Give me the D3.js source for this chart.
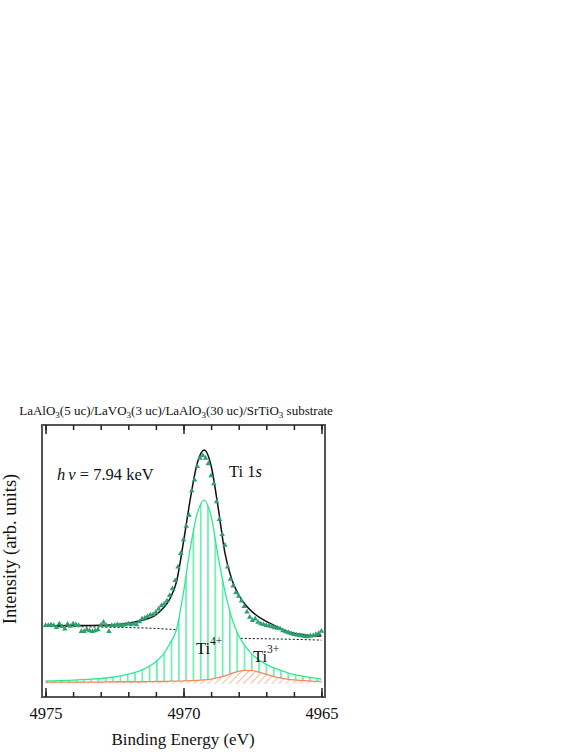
<!DOCTYPE html>
<html>
<head>
<meta charset="utf-8">
<script src="https://cdn.jsdelivr.net/npm/d3@7"></script>
<style>
    body { margin: 0; background: #fff; }
    text { font-family: "Liberation Serif", "Times New Roman", serif; fill: #111; }
</style>
</head>
<body>
<div id="chart"></div>
<script>
// measured spectrum, 0.1 eV steps from 4975.0 to 4965.0
var energies = d3.range(0, 101).map(function (i) { return +(4975 - i * 0.1).toFixed(1); });
var counts = [
    26.5, 26.5, 26.8, 26.5, 25.8, 27.1, 26.1, 25.2, 27.0, 26.2,
    27.1, 26.8, 26.5, 24.3, 24.3, 24.9, 24.6, 24.3, 24.6, 24.9,
    26.5, 27.7, 26.5, 24.3, 26.5, 26.5, 26.8, 26.5, 26.6, 26.8,
    27.1, 26.8, 27.1, 26.8, 27.9, 28.9, 29.3, 29.8, 30.4, 30.5,
    31.4, 32.6, 33.8, 34.4, 35.5, 37.5, 40.0, 43.0, 48.0, 53.0,
    58.0, 63.0, 67.0, 76.0, 80.0, 85.0, 88.0, 89.0, 88.0, 86.0,
    81.6, 78.6, 72.0, 65.5, 60.0, 56.0, 48.0, 43.5, 41.0, 38.5,
    37.3, 35.5, 33.5, 31.5, 29.5, 28.3, 28.9, 27.7, 27.1, 26.9,
    26.5, 26.3, 26.0, 25.7, 25.5, 25.3, 24.6, 24.2, 23.8, 23.5,
    23.2, 23.0, 22.8, 22.6, 22.5, 22.4, 22.6, 22.7, 23.2, 23.6,
    24.4
];

// fit curves
var fitEnergies = [4975, 4974.5, 4974, 4973.5, 4973, 4972.5, 4972, 4971.5, 4971, 4970.75,
    4970.5, 4970.25, 4970, 4969.75, 4969.5, 4969.25, 4969, 4968.75, 4968.5, 4968.25,
    4968, 4967.75, 4967.5, 4967.25, 4967, 4966.75, 4966.5, 4966.25, 4966, 4965.5, 4965];
var fitTotal = [26.2, 26.2, 26.3, 26.3, 26.4, 26.6, 27.1, 28.2, 30.2, 32.5,
    36.0, 42.5, 57.0, 73.0, 86.0, 90.8, 85.0, 70.0, 53.0, 43.2,
    37.5, 33.8, 31.2, 29.3, 27.8, 26.5, 25.3, 24.1, 23.4, 22.7, 22.4];
var fitTi4 = [5.9, 6.0, 6.2, 6.5, 6.8, 7.4, 8.4, 10.0, 13.0, 15.5,
    19.5, 25.0, 38.5, 55.0, 67.5, 72.4, 66.5, 52.0, 39.0, 29.0,
    22.5, 18.5, 15.5, 13.5, 12.0, 10.8, 9.9, 9.0, 8.3, 7.3, 6.6];
var fitTi3 = [5.5, 5.5, 5.5, 5.5, 5.5, 5.6, 5.6, 5.6, 5.7, 5.7,
    5.8, 5.8, 5.9, 6.0, 6.1, 6.3, 6.6, 7.1, 7.8, 8.7,
    9.4, 9.8, 9.7, 9.1, 8.3, 7.6, 7.0, 6.6, 6.3, 5.9, 5.7];

// Shirley background
var bgEnergies = [4975, 4973, 4971, 4970.5, 4970, 4969.5, 4969, 4968.5, 4968, 4967, 4966, 4965];
var bgValues = [26.0, 25.7, 25.2, 24.9, 24.6, 23.6, 22.6, 22.0, 21.6, 21.4, 21.2, 20.9];

var componentBase = 5.0;

var majorTicks = [4975, 4970, 4965];
var minorTicks = d3.range(4965, 4976, 1);

var green = "#2bea8c";
var orange = "#f4875a";
var pointColor = "#2f9f6f";
var serif = "'Liberation Serif', 'Times New Roman', serif";

var W = 581, H = 752;
var plotL = 42, plotR = 325, plotT = 425, plotB = 697;

var svg = d3.select("#chart")
    .append("svg")
    .attr("width", W)
    .attr("height", H);

var x = d3.scaleLinear().domain([4975.127, 4964.873]).range([plotL, plotR]);
var y = d3.scaleLinear().domain([0, 100]).range([plotB, plotT]);

var defs = svg.append("defs");

defs.append("clipPath").attr("id", "plotclip")
    .append("rect")
    .attr("x", plotL).attr("y", plotT)
    .attr("width", plotR - plotL).attr("height", plotB - plotT);

var vpat = defs.append("pattern")
    .attr("id", "vhatch")
    .attr("patternUnits", "userSpaceOnUse")
    .attr("width", 7.3).attr("height", 10);
vpat.append("rect").attr("width", 7.3).attr("height", 10).attr("fill", "#fff");
vpat.append("line")
    .attr("x1", 3.6).attr("x2", 3.6).attr("y1", 0).attr("y2", 10)
    .attr("stroke", green).attr("stroke-width", 1.2);

var dpat = defs.append("pattern")
    .attr("id", "dhatch")
    .attr("patternUnits", "userSpaceOnUse")
    .attr("width", 5).attr("height", 5)
    .attr("patternTransform", "rotate(45)");
dpat.append("rect").attr("width", 5).attr("height", 5).attr("fill", "#fff");
dpat.append("line")
    .attr("x1", 0).attr("x2", 0).attr("y1", 0).attr("y2", 5)
    .attr("stroke", orange).attr("stroke-width", 1.1);

var plot = svg.append("g").attr("clip-path", "url(#plotclip)");

// background
plot.append("path")
    .datum(d3.zip(bgEnergies, bgValues))
    .attr("fill", "none")
    .attr("stroke", "#111")
    .attr("stroke-width", 1)
    .attr("stroke-dasharray", "2,2")
    .attr("d", d3.line()
        .x(function (d) { return x(d[0]); })
        .y(function (d) { return y(d[1]); })
        .curve(d3.curveMonotoneX));

function compArea(vals, fill) {
    plot.append("path")
        .datum(d3.zip(fitEnergies, vals))
        .attr("fill", fill)
        .attr("stroke", "none")
        .attr("d", d3.area()
            .x(function (d) { return x(d[0]); })
            .y0(y(componentBase))
            .y1(function (d) { return y(d[1]); })
            .curve(d3.curveMonotoneX));
}

function fitLine(vals, color, width) {
    plot.append("path")
        .datum(d3.zip(fitEnergies, vals))
        .attr("fill", "none")
        .attr("stroke", color)
        .attr("stroke-width", width)
        .attr("d", d3.line()
            .x(function (d) { return x(d[0]); })
            .y(function (d) { return y(d[1]); })
            .curve(d3.curveMonotoneX));
}

compArea(fitTi4, "url(#vhatch)");
fitLine(fitTi4, green, 1.3);
compArea(fitTi3, "url(#dhatch)");
fitLine(fitTi3, orange, 1.3);
fitLine(fitTotal, "#111", 1.5);

plot.selectAll("path.pt")
    .data(d3.zip(energies, counts))
    .enter()
    .append("path")
    .attr("class", "pt")
    .attr("d", d3.symbol().type(d3.symbolTriangle).size(13))
    .attr("fill", pointColor)
    .attr("transform", function (d) {
        return "translate(" + x(d[0]) + "," + (y(d[1]) + 0.5) + ")";
    });

// frame
svg.append("rect")
    .attr("x", plotL).attr("y", plotT)
    .attr("width", plotR - plotL).attr("height", plotB - plotT)
    .attr("fill", "none")
    .attr("stroke", "#555")
    .attr("stroke-width", 2);

function tickAxis(axis, pos, vals, size, labels) {
    var g = svg.append("g")
        .attr("transform", "translate(0," + pos + ")")
        .call(axis(x).tickValues(vals).tickSize(size).tickPadding(10)
            .tickFormat(labels ? d3.format("d") : ""));
    g.select(".domain").remove();
    g.selectAll(".tick line").attr("stroke", "#222").attr("stroke-width", 1.5);
    g.selectAll(".tick text")
        .style("font-size", "16.5px")
        .style("font-family", serif)
        .style("fill", "#111");
    return g;
}

tickAxis(d3.axisBottom, plotB, minorTicks, -5, false);
tickAxis(d3.axisBottom, plotB, majorTicks, -9, true);
tickAxis(d3.axisTop, plotT, minorTicks, -5, false);
tickAxis(d3.axisTop, plotT, majorTicks, -9, false);

// title
var title = svg.append("text")
    .attr("x", 176)
    .attr("y", 415)
    .attr("text-anchor", "middle")
    .attr("font-size", "13px");
var parts = [["LaAlO", "3", "(5 uc)/LaVO"], ["", "3", "(3 uc)/LaAlO"], ["", "3", "(30 uc)/SrTiO"], ["", "3", " substrate"]];
parts.forEach(function (p) {
    if (p[0]) title.append("tspan").text(p[0]);
    title.append("tspan").attr("font-size", "9px").attr("dy", 3).text(p[1]);
    title.append("tspan").attr("dy", -3).text(p[2]);
});

// axis labels
svg.append("text")
    .attr("x", 183)
    .attr("y", 745)
    .attr("text-anchor", "middle")
    .attr("font-size", "17px")
    .text("Binding Energy (eV)");

svg.append("text")
    .attr("transform", "translate(16,549) rotate(-90)")
    .attr("text-anchor", "middle")
    .attr("font-size", "18.5px")
    .text("Intensity (arb. units)");

// annotations
var hv = svg.append("text")
    .attr("x", 57)
    .attr("y", 480)
    .attr("font-size", "16.5px");
hv.append("tspan").attr("font-style", "italic").text("h");
hv.append("tspan").attr("font-style", "italic").attr("dx", 3).text("ν");
hv.append("tspan").text(" = 7.94 keV");

var ti1s = svg.append("text")
    .attr("x", 229)
    .attr("y", 477)
    .attr("font-size", "16.5px");
ti1s.append("tspan").text("Ti 1");
ti1s.append("tspan").attr("font-style", "italic").text("s");

function ionLabel(xp, yp, sup) {
    var t = svg.append("text")
        .attr("x", xp)
        .attr("y", yp)
        .attr("font-size", "16.5px");
    t.append("tspan").text("Ti");
    t.append("tspan").attr("font-size", "11.5px").attr("dy", -9).text(sup);
}
ionLabel(196, 654, "4+");
ionLabel(253, 662, "3+");
</script>
</body>
</html>
